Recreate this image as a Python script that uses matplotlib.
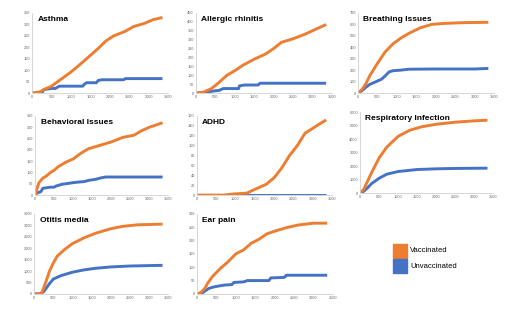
import matplotlib.pyplot as plt
from matplotlib.patches import Rectangle

plt.rcParams['font.family'] = ['Liberation Sans', 'DejaVu Sans']

ORANGE = '#ED7D31'
BLUE = '#4472C4'

# data (days, cumulative diagnoses)
asthma_vx = [0, 200, 300, 500, 700, 1000, 1300, 1500, 1700, 1900, 2100, 2400, 2600, 2900, 3100, 3350]
asthma_vy = [0, 5, 15, 30, 55, 92, 135, 165, 195, 228, 250, 270, 290, 305, 320, 330]
asthma_ux = [0, 250, 300, 500, 600, 700, 1300, 1350, 1400, 1650, 1700, 1800, 2350, 2400, 3350]
asthma_uy = [0, 0, 15, 20, 20, 30, 30, 40, 45, 45, 55, 58, 58, 63, 63]

rhin_vx = [0, 200, 400, 600, 800, 1000, 1200, 1500, 1800, 2000, 2200, 2500, 2800, 3000, 3350]
rhin_vy = [0, 5, 25, 60, 100, 125, 155, 190, 220, 250, 285, 305, 330, 350, 385]
rhin_ux = [0, 300, 400, 600, 700, 1100, 1120, 1250, 1600, 1650, 3350]
rhin_uy = [0, 0, 10, 15, 25, 25, 40, 45, 45, 55, 55]

breath_vx = [0, 100, 200, 300, 500, 700, 900, 1100, 1300, 1600, 1900, 2200, 2700, 3350]
breath_vy = [0, 30, 80, 150, 260, 360, 430, 480, 520, 570, 600, 608, 615, 618]
breath_ux = [0, 100, 200, 300, 400, 500, 600, 700, 800, 900, 1100, 1300, 2000, 3000, 3350]
breath_uy = [0, 20, 50, 75, 90, 105, 120, 150, 185, 195, 200, 208, 210, 210, 215]

behav_vx = [0, 50, 100, 200, 300, 400, 500, 600, 800, 1000, 1200, 1400, 1700, 2000, 2300, 2600, 2800, 3000, 3350]
behav_vy = [0, 30, 55, 75, 85, 100, 110, 125, 145, 160, 185, 205, 220, 235, 255, 265, 285, 300, 320]
behav_ux = [0, 50, 150, 200, 400, 500, 550, 650, 700, 800, 1000, 1100, 1300, 1400, 1600, 1700, 1850, 3350]
behav_uy = [0, 10, 15, 30, 35, 35, 40, 45, 48, 50, 55, 57, 60, 65, 70, 75, 80, 80]

adhd_vx = [0, 700, 900, 1300, 1400, 1600, 1800, 2000, 2200, 2400, 2600, 2800, 3000, 3200, 3350]
adhd_vy = [0, 0, 2, 4, 8, 15, 22, 35, 55, 80, 100, 125, 135, 145, 152]
adhd_ux = [0, 3350]
adhd_uy = [0, 0]

resp_vx = [0, 100, 200, 300, 500, 700, 1000, 1300, 1600, 2000, 2500, 3000, 3350]
resp_vy = [0, 300, 900, 1500, 2600, 3400, 4200, 4650, 4900, 5100, 5250, 5350, 5400]
resp_ux = [0, 100, 200, 300, 500, 700, 1000, 1500, 2000, 2500, 3350]
resp_uy = [0, 150, 400, 700, 1100, 1400, 1600, 1750, 1800, 1830, 1850]

otitis_vx = [0, 150, 200, 300, 400, 500, 600, 800, 1000, 1300, 1600, 2000, 2300, 2700, 3350]
otitis_vy = [0, 0, 50, 500, 1000, 1350, 1650, 1950, 2200, 2450, 2650, 2850, 2950, 3020, 3050]
otitis_ux = [0, 150, 250, 400, 500, 700, 1000, 1300, 1600, 2000, 2500, 3350]
otitis_uy = [0, 0, 100, 450, 650, 800, 950, 1050, 1120, 1180, 1220, 1250]

ear_vx = [0, 100, 200, 300, 400, 600, 800, 1000, 1200, 1400, 1600, 1800, 2000, 2300, 2600, 3000, 3350]
ear_vy = [0, 5, 20, 45, 65, 95, 120, 150, 165, 190, 205, 225, 235, 248, 258, 265, 265]
ear_ux = [0, 100, 200, 300, 400, 500, 700, 900, 950, 1200, 1300, 1850, 1900, 2250, 2300, 3350]
ear_uy = [0, 0, 10, 20, 25, 28, 33, 35, 43, 45, 50, 50, 60, 62, 70, 70]

panels = [
    ('Asthma', asthma_vx, asthma_vy, asthma_ux, asthma_uy, 350, 50, [0.063, 0.712, 0.267, 0.248]),
    ('Allergic rhinitis', rhin_vx, rhin_vy, rhin_ux, rhin_uy, 450, 50, [0.384, 0.712, 0.267, 0.248]),
    ('Breathing Issues', breath_vx, breath_vy, breath_ux, breath_uy, 700, 100, [0.702, 0.712, 0.267, 0.248]),
    ('Behavioral Issues', behav_vx, behav_vy, behav_ux, behav_uy, 350, 50, [0.069, 0.396, 0.261, 0.245]),
    ('ADHD', adhd_vx, adhd_vy, adhd_ux, adhd_uy, 160, 20, [0.386, 0.396, 0.265, 0.245]),
    ('Respiratory Infection', resp_vx, resp_vy, resp_ux, resp_uy, 6000, 1000, [0.706, 0.402, 0.261, 0.251]),
    ('Otitis media', otitis_vx, otitis_vy, otitis_ux, otitis_uy, 3500, 500, [0.067, 0.090, 0.263, 0.248]),
    ('Ear pain', ear_vx, ear_vy, ear_ux, ear_uy, 300, 50, [0.386, 0.090, 0.267, 0.248]),
]

fig = plt.figure(figsize=(5.1, 3.23), dpi=100)

for title, vx, vy, ux, uy, ymax, ystep, pos in panels:
    ax = fig.add_axes(pos)
    ax.plot(ux, uy, color=BLUE, lw=2.1, solid_capstyle='butt')
    ax.plot(vx, vy, color=ORANGE, lw=2.1, solid_capstyle='butt')
    ax.set_xlim(0, 3500)
    ax.set_ylim(0, ymax)
    ax.set_xticks(range(0, 3501, 500))
    ax.set_yticks(range(0, ymax + 1, ystep))
    ax.tick_params(labelsize=2.8, length=0, pad=1.5, colors='#666666')
    for s in ['top', 'right']:
        ax.spines[s].set_visible(False)
    for s in ['left', 'bottom']:
        ax.spines[s].set_color('#d0d0d0')
        ax.spines[s].set_linewidth(0.6)
    ax.text(0.04, 0.96, title, transform=ax.transAxes, fontsize=6,
            fontweight='bold', va='top', ha='left')

# legend
fig.patches.append(Rectangle((393 / 510, 1 - 258 / 323), 14 / 510, 14 / 323,
                             transform=fig.transFigure, color=ORANGE))
fig.patches.append(Rectangle((393 / 510, 1 - 273 / 323), 14 / 510, 14 / 323,
                             transform=fig.transFigure, color=BLUE))
fig.text(410 / 510, 1 - 251 / 323, 'Vaccinated', fontsize=5.5, va='center')
fig.text(410 / 510, 1 - 266 / 323, 'Unvaccinated', fontsize=5.5, va='center')

fig.savefig('out.png', dpi=100)
